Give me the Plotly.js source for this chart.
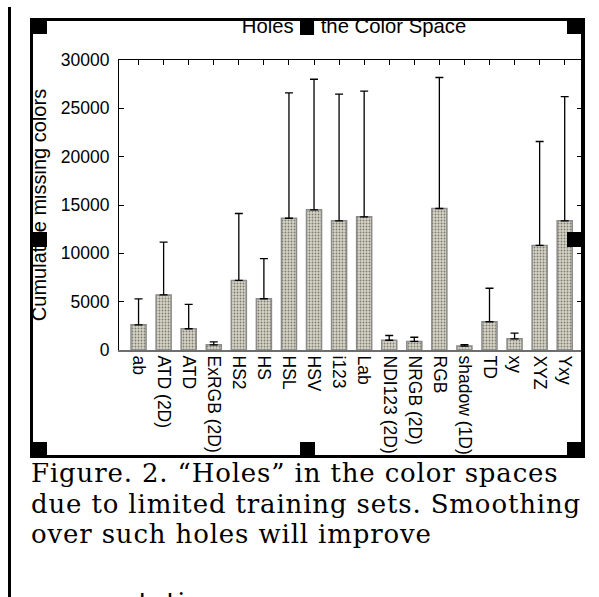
<!DOCTYPE html>
<html>
<head>
<meta charset="utf-8">
<script src="https://cdn.plot.ly/plotly-3.0.1.min.js"></script>
<style>
  html, body { margin: 0; padding: 0; background: #fff; }
  body { width: 599px; height: 597px; position: relative; overflow: hidden; }
  #clip { position: absolute; left: 33px; top: 21px; width: 548px; height: 434px; overflow: hidden; }
  #chart { position: absolute; left: -33px; top: -21px; width: 599px; height: 597px; }
  .blk { position: absolute; background: #000; }
  .cap { position: absolute; left: 31px; font-family: "DejaVu Serif", serif; font-size: 26px; letter-spacing: 0.85px; color: #000; white-space: nowrap; line-height: 1; }
</style>
</head>
<body>
<div id="clip"><div id="chart"></div></div>
<!-- frame -->
<div class="blk" style="left:30px;top:18px;width:554px;height:3px"></div>
<div class="blk" style="left:30px;top:455px;width:554px;height:3px"></div>
<div class="blk" style="left:30px;top:18px;width:3px;height:440px"></div>
<div class="blk" style="left:581px;top:18px;width:4px;height:440px"></div>
<!-- handles -->
<div class="blk" style="left:30px;top:18px;width:17px;height:16px"></div>
<div class="blk" style="left:300px;top:18px;width:14px;height:17px"></div>
<div class="blk" style="left:567px;top:18px;width:17px;height:16px"></div>
<div class="blk" style="left:30px;top:232px;width:17px;height:15px"></div>
<div class="blk" style="left:567px;top:232px;width:17px;height:15px"></div>
<div class="blk" style="left:30px;top:442px;width:17px;height:16px"></div>
<div class="blk" style="left:300px;top:442px;width:15px;height:16px"></div>
<div class="blk" style="left:567px;top:442px;width:17px;height:16px"></div>
<!-- left margin line -->
<div class="blk" style="left:8px;top:7px;width:3px;height:600px"></div>
<!-- caption -->
<div class="cap" style="top:460px">Figure. 2. “Holes” in the color spaces</div>
<div class="cap" style="top:491px">due to limited training sets. Smoothing</div>
<div class="cap" style="top:521px">over such holes will improve</div>
<div class="cap" style="top:589px">segmentation.</div>
<script>
const categories = ['ab','ATD (2D)','ATD','ExRGB (2D)','HS2','HS','HSL','HSV','i123','Lab','NDI123 (2D)','NRGB (2D)','RGB','shadow (1D)','TD','xy','XYZ','Yxy'];
const missingMean = [2600, 5700, 2200, 540, 7200, 5300, 13630, 14500, 13360, 13780, 1010, 890, 14640, 410, 2920, 1160, 10820, 13360];
const errorPlus = [2680, 5450, 2520, 310, 6920, 4160, 12970, 13510, 13100, 12990, 490, 430, 13550, 140, 3470, 580, 10750, 12860];
const yTicks = [0, 5000, 10000, 15000, 20000, 25000, 30000];
const chartTitle = 'Holes in the Color Space';
const yTitle = 'Cumulative missing colors';

const xIdx = categories.map((c, i) => i);
const xr = [-0.78, 17.69];

const bars = {
  type: 'bar',
  x: xIdx,
  y: missingMean,
  width: 0.6,
  marker: {
    color: '#d3d1c3',
    line: { color: '#8a8a8a', width: 1.5 },
    pattern: { shape: '.', fgcolor: '#7d7c70', bgcolor: '#d6d4c6', size: 3, solidity: 0.3 }
  },
  error_y: { type: 'data', symmetric: false, array: errorPlus, arrayminus: categories.map(() => 0), color: '#000', thickness: 1.3, width: 4 },
  hoverinfo: 'skip',
  showlegend: false
};
const topAxisHelper = { type: 'scatter', mode: 'markers', x: [0], y: [0], xaxis: 'x2', marker: { opacity: 0 }, hoverinfo: 'skip', showlegend: false };

const font = '"Liberation Sans", Arial, sans-serif';
const layout = {
  width: 599, height: 597,
  margin: { l: 119, r: 17, t: 60, b: 247, pad: 0 },
  paper_bgcolor: '#fff', plot_bgcolor: '#fff',
  font: { family: font, size: 17.5, color: '#000' },
  title: { text: chartTitle, font: { family: font, size: 20.3, color: '#000' }, x: (354 - 119) / 463, xref: 'paper', xanchor: 'center', y: 1 - 26/597, yref: 'container', yanchor: 'middle' },
  xaxis: {
    type: 'linear', range: xr, tickvals: xIdx, ticktext: categories, tickangle: 90,
    ticks: '', showline: true, linecolor: '#6e6e6e', linewidth: 2, showgrid: false, zeroline: false,
    tickfont: { family: font, size: 17.5, color: '#000' }, ticklabelstandoff: 0, fixedrange: true
  },
  xaxis2: {
    overlaying: 'x', anchor: 'y', side: 'top', type: 'linear', range: xr, tickvals: xIdx,
    showticklabels: false, ticks: 'inside', ticklen: 5, tickcolor: '#000', tickwidth: 1,
    showline: true, linecolor: '#000', linewidth: 1, showgrid: false, zeroline: false
  },
  yaxis: {
    range: [0, 30000], tickvals: yTicks, ticktext: yTicks.map(String),
    ticks: 'inside', ticklen: 5, tickcolor: '#000', tickwidth: 1,
    showline: true, linecolor: '#000', linewidth: 1, mirror: 'ticks',
    showgrid: false, zeroline: false,
    tickfont: { family: font, size: 17.5, color: '#000' }, ticklabelstandoff: 5,
    title: { text: yTitle, font: { family: font, size: 20, color: '#000' }, standoff: 8 }
  },
  bargap: 0.4
};
Plotly.newPlot('chart', [bars, topAxisHelper], layout, { displayModeBar: false, staticPlot: true });
</script>
</body>
</html>
